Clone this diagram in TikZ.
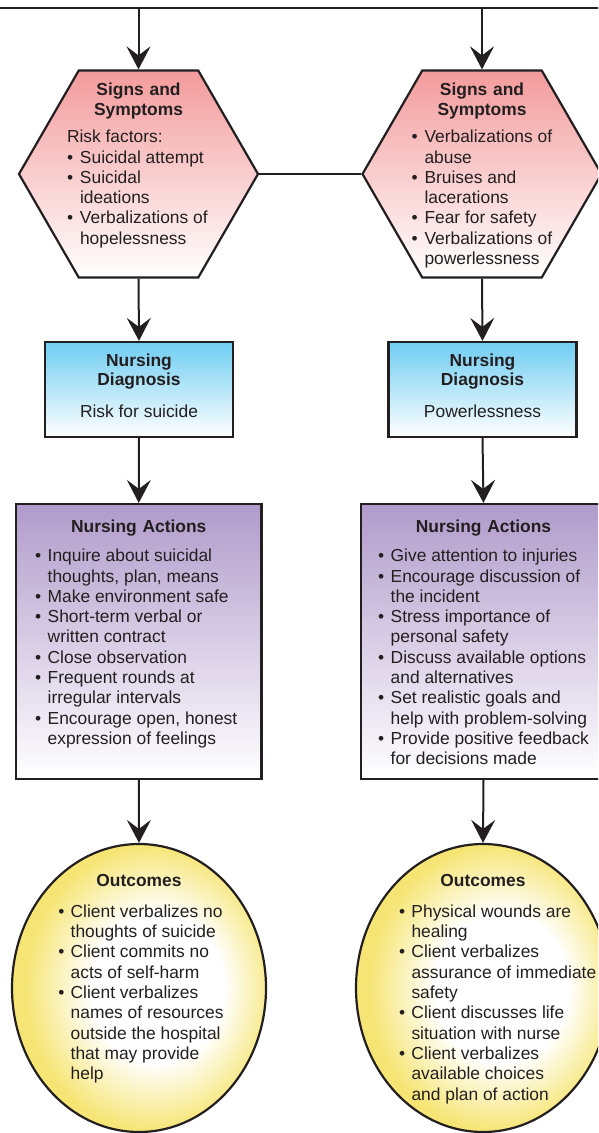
\documentclass[tikz,border=0pt]{standalone}
\usepackage{fontspec}
\setmainfont{Liberation Sans}
\usetikzlibrary{shapes.geometric,arrows.meta}
\definecolor{hexpink}{HTML}{F39B9C}
\definecolor{diagblue}{HTML}{6FCDF2}
\definecolor{actlav}{HTML}{B09BCB}
\definecolor{outyel}{HTML}{F6E574}
\definecolor{ink}{HTML}{231F20}
\pgfdeclareradialshading{outshade}{\pgfpoint{5bp}{0bp}}{color(0bp)=(white); color(13bp)=(white); color(25bp)=(outyel); color(50bp)=(outyel)}
\newlength\bulw
\setlength\bulw{12.7pt}
\newcommand\bitem[1]{\par\hangindent=\bulw\hangafter=1\noindent\makebox[\bulw][l]{\textbullet}{\let\\\newline #1}}
\newenvironment{bodytext}{\begin{minipage}[t]{230pt}\raggedright\fontsize{17.4}{20.3}\selectfont}{\end{minipage}}
\tikzset{
  txt/.style={inner sep=0pt, outer sep=0pt, text=ink, anchor=base west},
  ttl/.style={inner sep=0pt, outer sep=0pt, text=ink, font=\bfseries\fontsize{17.4}{19.7}\selectfont, text width=220pt, align=center, anchor=base},
  ctr/.style={inner sep=0pt, outer sep=0pt, text=ink, font=\fontsize{17.4}{20.3}\selectfont, anchor=base},
  hexshape/.style={regular polygon, regular polygon sides=6, minimum size=239pt, inner sep=0pt, draw=ink, line width=2.2pt, top color=hexpink, bottom color=white},
  diagbox/.style={rectangle, draw=ink, line width=2.2pt, minimum width=188pt, minimum height=95pt, inner sep=0pt, top color=diagblue, bottom color=white},
  actbox/.style={rectangle, draw=ink, line width=2.2pt, minimum width=245.5pt, minimum height=274.7pt, inner sep=0pt, top color=actlav, bottom color=white},
  outell/.style={ellipse, draw=ink, line width=2.2pt, minimum width=254pt, minimum height=288pt, inner sep=0pt, shade, shading=outshade},
  plain/.style={draw=ink, line width=2pt},
  conn/.style={draw=ink, line width=2pt, -{Stealth[length=23pt,width=24pt,inset=9pt]}},
}
\begin{document}
\begin{tikzpicture}[x=1pt,y=-1pt]
\clip (0,0) rectangle (598,1133);
\fill[white] (0,0) rectangle (598,1133);

% shapes
\node[hexshape] (hexL) at (138.5,174) {};
\node[hexshape] (hexR) at (482,174) {};
\node[diagbox] (diagL) at (139,389.5) {};
\node[diagbox] (diagR) at (482.5,389.5) {};
\node[actbox] (actL) at (138.75,641.35) {};
\node[actbox] (actR) at (483.5,641.35) {};
\node[outell] (outL) at (139,988) {};
\node[outell] (outR) at (483,988) {};

% top line and connectors
\coordinate (tl) at (-5,8.4);
\coordinate (tr) at (603,8.4);
\draw[plain] (tl) -- (tr);
\coordinate (jl) at (hexL.north |- tl);
\coordinate (jr) at (hexR.north |- tl);
\draw[conn] (jl) -- (hexL.north);
\draw[conn] (jr) -- (hexR.north);
\draw[plain] (hexL.east) -- (hexR.west);
\draw[conn] (hexL.south) -- (diagL.north);
\draw[conn] (hexR.south) -- (diagR.north);
\draw[conn] (diagL.south) -- (actL.north);
\draw[conn] (diagR.south) -- (actR.north);
\draw[conn] (actL.south) -- (outL.north);
\draw[conn] (actR.south) -- (outR.north);

% hexagon texts
\node[ttl] (hexLt) at (138.5,95.7) {Signs and\\Symptoms};
\node[txt] (hexLb) at (67,142.7) {\begin{bodytext}\setlength\bulw{13pt}Risk factors:
\bitem{Suicidal attempt}
\bitem{Suicidal\\ideations}
\bitem{Verbalizations of\\hopelessness}\end{bodytext}};
\node[ttl] (hexRt) at (482,95.7) {Signs and\\Symptoms};
\node[txt] (hexRb) at (411.5,142.7) {\begin{bodytext}\setlength\bulw{13pt}%
\bitem{Verbalizations of\\abuse}
\bitem{Bruises and\\lacerations}
\bitem{Fear for safety}
\bitem{Verbalizations of\\powerlessness}\end{bodytext}};

% diagnosis texts
\node[ttl] (diagLt) at (139,366) {Nursing\\Diagnosis};
\node[ctr] (diagLb) at (139,417) {Risk for suicide};
\node[ttl] (diagRt) at (482.5,366) {Nursing\\Diagnosis};
\node[ctr] (diagRb) at (482.5,417) {Powerlessness};

% actions texts
\node[ttl] (actLt) at (138.75,532.7) {Nursing Actions};
\node[txt] (actLb) at (35,561.7) {\begin{bodytext}%
\bitem{Inquire about suicidal\\thoughts, plan, means}
\bitem{Make environment safe}
\bitem{Short-term verbal or\\written contract}
\bitem{Close observation}
\bitem{Frequent rounds at\\irregular intervals}
\bitem{Encourage open, honest\\expression of feelings}\end{bodytext}};
\node[ttl] (actRt) at (483.5,532.7) {Nursing Actions};
\node[txt] (actRb) at (378,561.7) {\begin{bodytext}%
\bitem{Give attention to injuries}
\bitem{Encourage discussion of\\the incident}
\bitem{Stress importance of\\personal safety}
\bitem{Discuss available options\\and alternatives}
\bitem{Set realistic goals and\\help with problem-solving}
\bitem{Provide positive feedback\\for decisions made}\end{bodytext}};

% outcomes texts
\node[ttl] (outLt) at (139,886.7) {Outcomes};
\node[txt] (outLb) at (58.4,917.3) {\begin{bodytext}\setlength\bulw{12.3pt}%
\bitem{Client verbalizes no\\thoughts of suicide}
\bitem{Client commits no\\acts of self-harm}
\bitem{Client verbalizes\\names of resources\\outside the hospital\\that may provide\\help}\end{bodytext}};
\node[ttl] (outRt) at (483,886.7) {Outcomes};
\node[txt] (outRb) at (399,917.3) {\begin{bodytext}\setlength\bulw{12.5pt}%
\bitem{Physical wounds are\\healing}
\bitem{Client verbalizes\\assurance of immediate\\safety}
\bitem{Client discusses life\\situation with nurse}
\bitem{Client verbalizes\\available choices\\and plan of action}\end{bodytext}};
\end{tikzpicture}
\end{document}
